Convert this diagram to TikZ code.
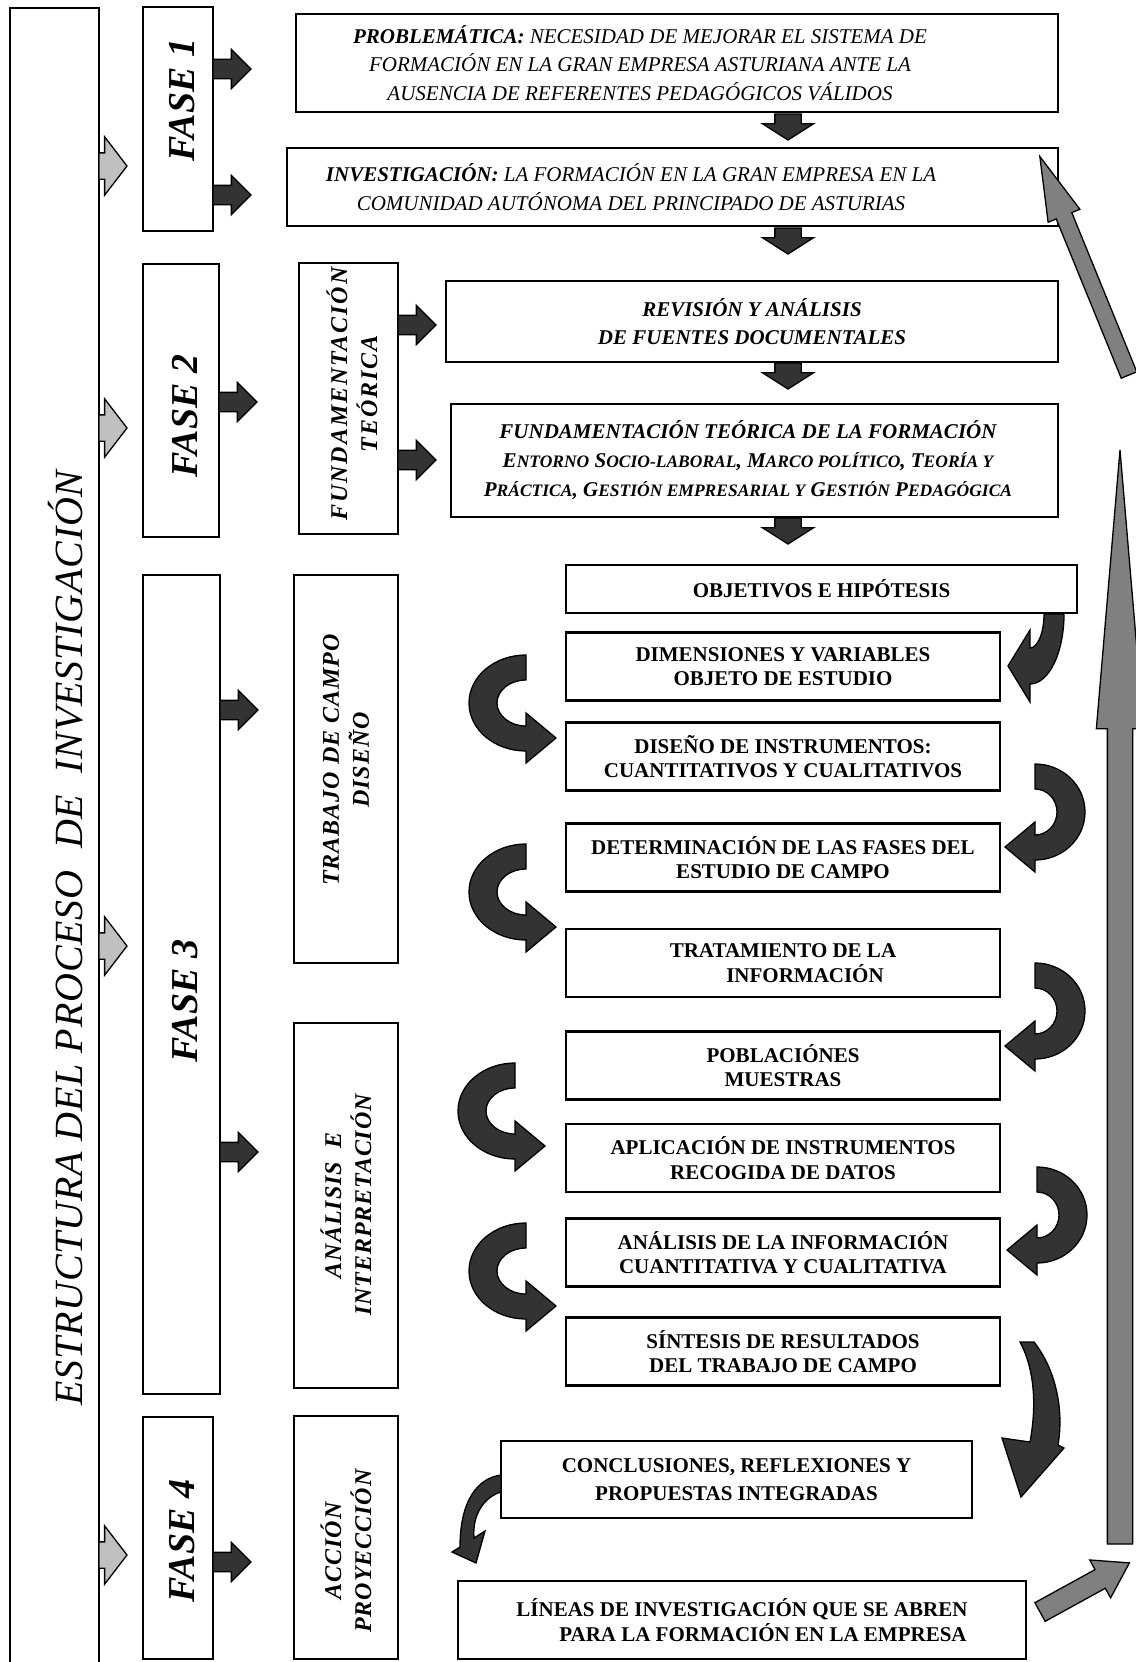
\documentclass[tikz,border=0pt]{standalone}
\usepackage{fontspec}
\setmainfont{Liberation Serif}
\usetikzlibrary{shapes.arrows,calc,positioning}
\definecolor{oscuro}{RGB}{51,51,51}
\definecolor{grisclaro}{RGB}{192,192,192}
\definecolor{grismedio}{RGB}{128,128,128}
% versalitas hechas a mano
\newcommand{\pc}[1]{{\fontsize{17.5}{17.5}\selectfont #1}}
% flecha curva en C (#3 = 1 a la izquierda, -1 a la derecha; #4 radio exterior)
\newcommand{\curvac}[4]{%
  \begin{scope}[shift={(#1,#2)},xscale=#3]
    \filldraw[curva] (0,0) arc[start angle=270,end angle=90,x radius=#4,y radius=48]
      -- (0,108) -- (30,83) -- (0,58) -- (0,71)
      arc[start angle=90,end angle=270,x radius=#4-28,y radius=23] -- cycle;
  \end{scope}}

\begin{document}
\begin{tikzpicture}[x=1pt,y=-1pt,
  caja/.style={draw,line width=2.4pt,inner sep=0pt},
  tsup/.style={font=\fontsize{21}{28.6}\selectfont\itshape,align=center,inner sep=0pt},
  tneg/.style={font=\fontsize{21}{24.5}\selectfont\bfseries,align=center},
  tfase/.style={font=\fontsize{38}{40}\selectfont\bfseries\itshape,rotate=90,inner sep=0pt},
  tcol/.style={font=\fontsize{24}{30}\selectfont\bfseries\itshape\addfontfeatures{LetterSpace=4},
    rotate=90,align=center,inner sep=0pt},
  flecha/.style={single arrow,draw=black,line width=1.3pt,fill=oscuro,inner xsep=0pt,inner ysep=9pt,
    outer sep=0pt,anchor=tail,minimum height=38pt,single arrow head extend=10pt,
    single arrow tip angle=90},
  flechab/.style={flecha,rotate=-90,minimum height=26pt,inner ysep=12.5pt,
    single arrow head extend=12.5pt,single arrow tip angle=115},
  flechag/.style={flecha,fill=grisclaro,minimum height=28pt,inner ysep=12.5pt,
    single arrow head extend=16pt,single arrow tip angle=105},
  flechat/.style={flecha,fill=grismedio},
  curva/.style={fill=oscuro,draw=black,line width=1.3pt}]
  \useasboundingbox (0,0) rectangle (1135,1662);
  \fill[white] (0,0) rectangle (1135,1662);
  % columna del titulo
  \node[caja,minimum width=89pt,minimum height=1664pt] (izq) at (54.5,840) {};
  \node[font=\fontsize{40}{40}\selectfont\itshape\addfontfeatures{LetterSpace=2},rotate=90]
     (titulo) at (66,938) {ESTRUCTURA DEL PROCESO\ \ DE\ \ INVESTIGACIÓN};
  % fases
  \foreach \n/\x/\y/\w/\h/\ty in {1/178/119/70/224/100,2/181/400.5/76/273/416,
      3/181.5/984.5/77/819/1001,4/178/1538/70/242/1541} {
    \node[caja,minimum width=\w pt,minimum height=\h pt] (fase\n) at (\x,\y) {};
    \node[tfase] (fase\n-txt) at (\x+4,\ty) {FASE \n};
  }
  \foreach \y [count=\i] in {166,428,946,1555}
    \node[flechag] (g\i) at (99,\y) {};
  % segunda columna
  \node[caja,minimum width=99pt,minimum height=271pt] (fund) at (348.5,398.5) {};
  \node[tcol,font=\fontsize{24}{30}\selectfont\bfseries\itshape\addfontfeatures{LetterSpace=8}]
     (fund-txt) at (352,394) {FUNDAMENTACIÓN\\TEÓRICA};
  \node[caja,minimum width=104pt,minimum height=388pt] (trab) at (346,769) {};
  \node[tcol] (trab-txt) at (346,760) {TRABAJO DE CAMPO\\DISEÑO};
  \node[caja,minimum width=104pt,minimum height=365pt] (anal) at (346,1205.5) {};
  \node[tcol] (anal-txt) at (346,1205) {ANÁLISIS\ \ E\\INTERPRETACIÓN};
  \node[caja,minimum width=104pt,minimum height=243pt] (acc) at (346,1537.5) {};
  \node[tcol] (acc-txt) at (346,1551) {ACCIÓN\\PROYECCIÓN};
  % cajas superiores
  \node[caja,minimum width=762pt,minimum height=98pt] (prob) at (677,63) {};
  \node[tsup] (prob-txt) at (640,63) {\textbf{PROBLEMÁTICA:} NECESIDAD DE MEJORAR EL SISTEMA DE\\
     FORMACIÓN EN LA GRAN EMPRESA ASTURIANA ANTE LA\\AUSENCIA DE REFERENTES PEDAGÓGICOS VÁLIDOS};
  \node[caja,minimum width=771pt,minimum height=78pt] (inv) at (672.5,187) {};
  \node[tsup] (inv-txt) at (631,187) {\textbf{INVESTIGACIÓN:} LA FORMACIÓN EN LA GRAN EMPRESA EN LA\\
     COMUNIDAD AUTÓNOMA DEL PRINCIPADO DE ASTURIAS};
  \node[caja,minimum width=612pt,minimum height=81pt] (rev) at (752,321.5) {};
  \node[tsup,font=\fontsize{21}{28.6}\selectfont\bfseries\itshape] (rev-txt) at (752,321.5)
     {REVISIÓN Y ANÁLISIS\\DE FUENTES DOCUMENTALES};
  \node[caja,minimum width=607pt,minimum height=113pt] (fteo) at (754.5,460.5) {};
  \node[tsup,font=\fontsize{21}{29}\selectfont\bfseries\itshape] (fteo-txt) at (748,460.5)
     {FUNDAMENTACIÓN TEÓRICA DE LA FORMACIÓN\\
      E\pc{NTORNO} S\pc{OCIO-LABORAL}, M\pc{ARCO POLÍTICO}, T\pc{EORÍA Y}\\
      P\pc{RÁCTICA}, G\pc{ESTIÓN EMPRESARIAL Y} G\pc{ESTIÓN} P\pc{EDAGÓGICA}};
  % cajas del trabajo de campo
  \node[caja,tneg,minimum width=511pt,minimum height=48pt] (obj) at (821.5,589) {OBJETIVOS E HIPÓTESIS};
  \foreach \n/\y/\t in {
      dim/666.5/{DIMENSIONES Y VARIABLES\\OBJETO DE ESTUDIO},
      dis/756.5/{DISEÑO DE INSTRUMENTOS:\\CUANTITATIVOS Y CUALITATIVOS},
      det/857.5/{DETERMINACIÓN DE LAS FASES DEL\\ESTUDIO DE CAMPO},
      tra/963/{TRATAMIENTO DE LA\\\hspace*{44pt}INFORMACIÓN},
      pob/1065.5/{POBLACIÓNES\\MUESTRAS},
      apl/1158/{APLICACIÓN DE INSTRUMENTOS\\RECOGIDA DE DATOS},
      ana/1252.5/{ANÁLISIS DE LA INFORMACIÓN\\CUANTITATIVA Y CUALITATIVA},
      sin/1351.5/{SÍNTESIS DE RESULTADOS\\DEL TRABAJO DE CAMPO}}
    \node[caja,tneg,minimum width=434pt,minimum height=68pt] (\n) at (783,\y) {\t};
  \node[caja,tneg,font=\fontsize{21}{28}\selectfont\bfseries,minimum width=471pt,minimum height=77pt]
     (con) at (736.5,1479.5) {CONCLUSIONES, REFLEXIONES Y\\PROPUESTAS INTEGRADAS};
  \node[caja,tneg,minimum width=568pt,minimum height=78pt] (lin) at (742,1620)
     {LÍNEAS DE INVESTIGACIÓN QUE SE ABREN\\\hspace*{42pt}PARA LA FORMACIÓN EN LA EMPRESA};
  % flechas rectas
  \foreach \x/\y [count=\i] in {213/69,213/195,219/402,398/325,398/460,220/710,220/1152,213/1562}
    \node[flecha] (d\i) at (\x,\y) {};
  \foreach \y [count=\i] in {114,228,363,518}
    \node[flechab] (b\i) at (788,\y) {};
  % flechas curvas
  \filldraw[curva] (1064,614) arc[start angle=0,end angle=90,x radius=34,y radius=70]
     -- (1030,702) -- (1008,666) -- (1030,630) -- (1030,648)
     arc[start angle=90,end angle=0,x radius=14,y radius=34] -- cycle;
  \curvac{526}{655}{1}{57}
  \curvac{526}{844}{1}{57}
  \curvac{515}{1063}{1}{57}
  \curvac{526}{1223}{1}{57}
  \curvac{1035}{764}{-1}{50}
  \curvac{1035}{963}{-1}{50}
  \curvac{1037}{1167}{-1}{50}
  \filldraw[curva] (1020,1342) -- (1034,1342) .. controls (1056,1370) and (1064,1410) .. (1058,1445)
     -- (1064,1448) -- (1021,1497) -- (1002,1438) -- (1030,1442)
     .. controls (1036,1410) and (1036,1372) .. cycle;
  \filldraw[curva] (501,1475) .. controls (478,1478) and (460,1500) .. (460,1547)
     -- (452,1552) -- (476,1563) -- (485,1531) -- (474,1538)
     .. controls (472,1515) and (484,1497) .. (501,1492) -- cycle;
  % flechas de retorno
  \node[flechat,rotate=90,minimum height=1094pt,inner ysep=12pt,single arrow head extend=11pt,
     single arrow tip angle=9.7] (subida) at (1120,1544) {};
  \node[flechat,rotate=112.2,minimum height=236pt,inner ysep=7.75pt,single arrow head extend=8.75pt,
     single arrow tip angle=30] (diag) at (1129,375) {};
  \node[flechat,rotate=28.8,minimum height=102pt,inner ysep=10pt,single arrow head extend=11pt,
     single arrow tip angle=66] (salida) at (1040,1612) {};
\end{tikzpicture}
\end{document}
